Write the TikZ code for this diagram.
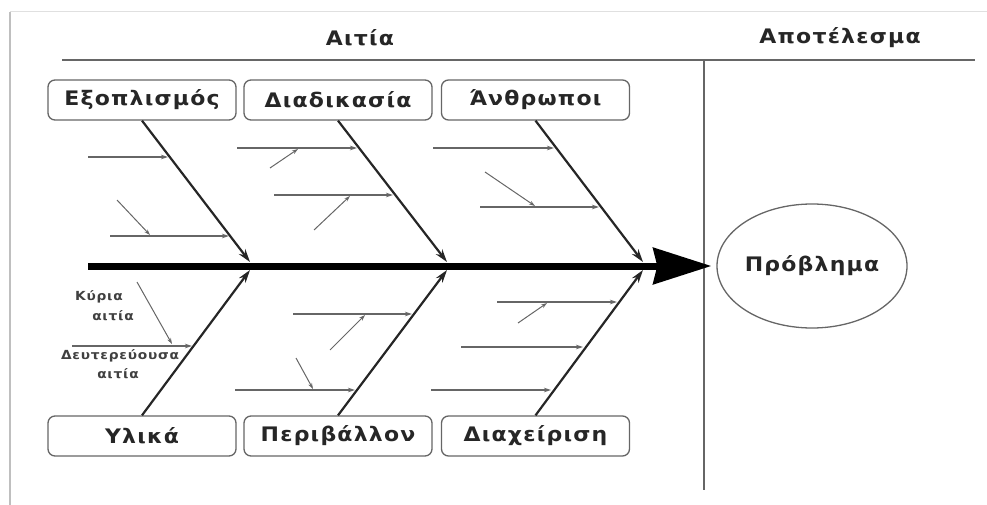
\documentclass[tikz,border=0pt]{standalone}
\usepackage{fontspec}
\setmainfont{DejaVu Sans}
\newfontfamily\lblfont[LetterSpace=6,FakeStretch=1.1]{DejaVu Sans}
\usetikzlibrary{arrows.meta,shapes.geometric}
\begin{document}
\begin{tikzpicture}[x=1pt,y=-1pt,
  cat/.style={draw=black!60, line width=1.3pt, rounded corners=7pt, minimum width=188pt, minimum height=40pt, inner sep=0pt, font=\lblfont\bfseries\fontsize{20}{22}\selectfont, text=black!85},
  head/.style={font=\lblfont\bfseries\fontsize{20}{22}\selectfont, text=black!85, inner sep=0pt},
  small/.style={font=\lblfont\bfseries\fontsize{12.5}{14}\selectfont, text=black!75, inner sep=0pt},
  bone/.style={line width=2.2pt, draw=black!85, -{Stealth[length=13pt,width=8pt]}},
  sub/.style={draw=black!60, line width=1.3pt, -{Stealth[length=7pt,width=4.5pt]}},
  subsub/.style={draw=black!60, line width=1pt, -{Stealth[length=6pt,width=4pt]}},
  frame/.style={draw=black!60, line width=1.4pt}]
\useasboundingbox (0,0) rectangle (987,505);
% page frame
\draw[black!25, line width=1.5pt] (10,505) -- (10,12);
\draw[black!12, line width=1pt] (10,12) -- (987,12);
% headers
\node[head] (hA) at (360,38) {Αιτία};
\node[head] (hB) at (840,38) {Αποτέλεσμα};
\coordinate (hl0) at (62,60);
\coordinate (hl1) at (975,60);
\coordinate (vl0) at (704,60);
\coordinate (vl1) at (704,490);
\draw[frame] (hl0) -- (hl1);
\draw[frame] (vl0) -- (vl1);
% problem
\node[ellipse, draw=black!60, line width=1.3pt, minimum width=190pt, minimum height=124pt, head] (P) at (812,266) {Πρόβλημα};
% spine
\coordinate (sp0) at (88,266);
\draw[line width=7pt, -{Stealth[length=58pt,width=36pt,inset=4pt]}, shorten >=5pt] (sp0) -- (P.west);
% category boxes
\node[cat] (E) at (142,100) {Εξοπλισμός};
\node[cat] (D) at (338,100) {Διαδικασία};
\node[cat] (A) at (535.5,100) {Άνθρωποι};
\node[cat] (Y) at (142,436) {Υλικά};
\node[cat] (R) at (338,436) {Περιβάλλον};
\node[cat] (X) at (535.5,436) {Διαχείριση};
% bone ends on spine
\coordinate (e1) at (250,262);
\coordinate (e2) at (447,262);
\coordinate (e3) at (643,262);
\coordinate (f1) at (250,270);
\coordinate (f2) at (447,270);
\coordinate (f3) at (643,270);
\draw[bone] (E.south) -- (e1);
\draw[bone] (D.south) -- (e2);
\draw[bone] (A.south) -- (e3);
\draw[bone] (Y.north) -- (f1);
\draw[bone] (R.north) -- (f2);
\draw[bone] (X.north) -- (f3);
% top group 1
\coordinate (t1a) at (88,157);  \coordinate (t1b) at (168,157);
\coordinate (t2a) at (110,236); \coordinate (t2b) at (229,236);
\coordinate (t2c) at (117,200); \coordinate (t2d) at (150,235);
\draw[sub] (t1a) -- (t1b);
\draw[sub] (t2a) -- (t2b);
\draw[subsub] (t2c) -- (t2d);
% top group 2
\coordinate (t3a) at (237,148); \coordinate (t3b) at (357,148);
\coordinate (t3c) at (270,168); \coordinate (t3d) at (298,149);
\coordinate (t4a) at (274,195); \coordinate (t4b) at (393,195);
\coordinate (t4c) at (314,230); \coordinate (t4d) at (350,196);
\draw[sub] (t3a) -- (t3b);
\draw[subsub] (t3c) -- (t3d);
\draw[sub] (t4a) -- (t4b);
\draw[subsub] (t4c) -- (t4d);
% top group 3
\coordinate (t5a) at (433,148); \coordinate (t5b) at (554,148);
\coordinate (t6a) at (480,207); \coordinate (t6b) at (599,207);
\coordinate (t6c) at (485,172); \coordinate (t6d) at (535,206);
\draw[sub] (t5a) -- (t5b);
\draw[sub] (t6a) -- (t6b);
\draw[subsub] (t6c) -- (t6d);
% bottom group 1
\coordinate (b1a) at (72,346); \coordinate (b1b) at (192,346);
\coordinate (b1c) at (137,282); \coordinate (b1d) at (172,344);
\draw[sub] (b1a) -- (b1b);
\draw[subsub] (b1c) -- (b1d);
\node[small] (k1) at (99,297) {Κύρια};
\node[small] (k2) at (113,316) {αιτία};
\node[small] (k3) at (120,356) {Δευτερεύουσα};
\node[small] (k4) at (118,374) {αιτία};
% bottom group 2
\coordinate (b2a) at (293,314); \coordinate (b2b) at (412,314);
\coordinate (b2c) at (330,350); \coordinate (b2d) at (365,315);
\coordinate (b3a) at (235,390); \coordinate (b3b) at (355,390);
\coordinate (b3c) at (296,358); \coordinate (b3d) at (313,389);
\draw[sub] (b2a) -- (b2b);
\draw[subsub] (b2c) -- (b2d);
\draw[sub] (b3a) -- (b3b);
\draw[subsub] (b3c) -- (b3d);
% bottom group 3
\coordinate (b4a) at (497,302); \coordinate (b4b) at (617,302);
\coordinate (b4c) at (518,323); \coordinate (b4d) at (547,303);
\coordinate (b5a) at (461,347); \coordinate (b5b) at (583,347);
\coordinate (b6a) at (431,390); \coordinate (b6b) at (551,390);
\draw[sub] (b4a) -- (b4b);
\draw[subsub] (b4c) -- (b4d);
\draw[sub] (b5a) -- (b5b);
\draw[sub] (b6a) -- (b6b);
\end{tikzpicture}
\end{document}
